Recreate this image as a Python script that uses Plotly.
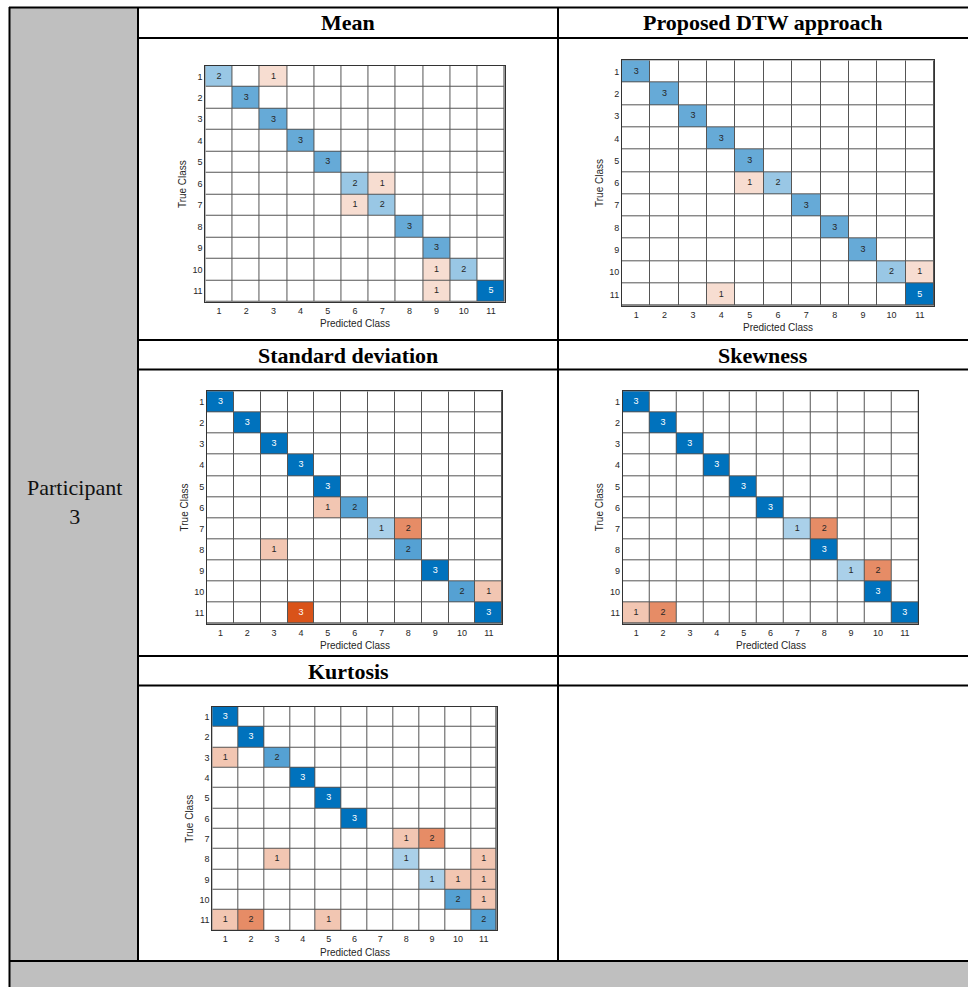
import plotly.graph_objects as go

W, H = 968, 987

class_labels = ["1", "2", "3", "4", "5", "6", "7", "8", "9", "10", "11"]

# Confusion counts: rows = true class, columns = predicted class
mean_counts = [
    [2, 0, 1, 0, 0, 0, 0, 0, 0, 0, 0],
    [0, 3, 0, 0, 0, 0, 0, 0, 0, 0, 0],
    [0, 0, 3, 0, 0, 0, 0, 0, 0, 0, 0],
    [0, 0, 0, 3, 0, 0, 0, 0, 0, 0, 0],
    [0, 0, 0, 0, 3, 0, 0, 0, 0, 0, 0],
    [0, 0, 0, 0, 0, 2, 1, 0, 0, 0, 0],
    [0, 0, 0, 0, 0, 1, 2, 0, 0, 0, 0],
    [0, 0, 0, 0, 0, 0, 0, 3, 0, 0, 0],
    [0, 0, 0, 0, 0, 0, 0, 0, 3, 0, 0],
    [0, 0, 0, 0, 0, 0, 0, 0, 1, 2, 0],
    [0, 0, 0, 0, 0, 0, 0, 0, 1, 0, 5],
]

dtw_counts = [
    [3, 0, 0, 0, 0, 0, 0, 0, 0, 0, 0],
    [0, 3, 0, 0, 0, 0, 0, 0, 0, 0, 0],
    [0, 0, 3, 0, 0, 0, 0, 0, 0, 0, 0],
    [0, 0, 0, 3, 0, 0, 0, 0, 0, 0, 0],
    [0, 0, 0, 0, 3, 0, 0, 0, 0, 0, 0],
    [0, 0, 0, 0, 1, 2, 0, 0, 0, 0, 0],
    [0, 0, 0, 0, 0, 0, 3, 0, 0, 0, 0],
    [0, 0, 0, 0, 0, 0, 0, 3, 0, 0, 0],
    [0, 0, 0, 0, 0, 0, 0, 0, 3, 0, 0],
    [0, 0, 0, 0, 0, 0, 0, 0, 0, 2, 1],
    [0, 0, 0, 1, 0, 0, 0, 0, 0, 0, 5],
]

std_counts = [
    [3, 0, 0, 0, 0, 0, 0, 0, 0, 0, 0],
    [0, 3, 0, 0, 0, 0, 0, 0, 0, 0, 0],
    [0, 0, 3, 0, 0, 0, 0, 0, 0, 0, 0],
    [0, 0, 0, 3, 0, 0, 0, 0, 0, 0, 0],
    [0, 0, 0, 0, 3, 0, 0, 0, 0, 0, 0],
    [0, 0, 0, 0, 1, 2, 0, 0, 0, 0, 0],
    [0, 0, 0, 0, 0, 0, 1, 2, 0, 0, 0],
    [0, 0, 1, 0, 0, 0, 0, 2, 0, 0, 0],
    [0, 0, 0, 0, 0, 0, 0, 0, 3, 0, 0],
    [0, 0, 0, 0, 0, 0, 0, 0, 0, 2, 1],
    [0, 0, 0, 3, 0, 0, 0, 0, 0, 0, 3],
]

skew_counts = [
    [3, 0, 0, 0, 0, 0, 0, 0, 0, 0, 0],
    [0, 3, 0, 0, 0, 0, 0, 0, 0, 0, 0],
    [0, 0, 3, 0, 0, 0, 0, 0, 0, 0, 0],
    [0, 0, 0, 3, 0, 0, 0, 0, 0, 0, 0],
    [0, 0, 0, 0, 3, 0, 0, 0, 0, 0, 0],
    [0, 0, 0, 0, 0, 3, 0, 0, 0, 0, 0],
    [0, 0, 0, 0, 0, 0, 1, 2, 0, 0, 0],
    [0, 0, 0, 0, 0, 0, 0, 3, 0, 0, 0],
    [0, 0, 0, 0, 0, 0, 0, 0, 1, 2, 0],
    [0, 0, 0, 0, 0, 0, 0, 0, 0, 3, 0],
    [1, 2, 0, 0, 0, 0, 0, 0, 0, 0, 3],
]

kurt_counts = [
    [3, 0, 0, 0, 0, 0, 0, 0, 0, 0, 0],
    [0, 3, 0, 0, 0, 0, 0, 0, 0, 0, 0],
    [1, 0, 2, 0, 0, 0, 0, 0, 0, 0, 0],
    [0, 0, 0, 3, 0, 0, 0, 0, 0, 0, 0],
    [0, 0, 0, 0, 3, 0, 0, 0, 0, 0, 0],
    [0, 0, 0, 0, 0, 3, 0, 0, 0, 0, 0],
    [0, 0, 0, 0, 0, 0, 0, 1, 2, 0, 0],
    [0, 0, 1, 0, 0, 0, 0, 1, 0, 0, 1],
    [0, 0, 0, 0, 0, 0, 0, 0, 1, 1, 1],
    [0, 0, 0, 0, 0, 0, 0, 0, 0, 2, 1],
    [1, 2, 0, 0, 1, 0, 0, 0, 0, 0, 2],
]

# Layout of the table cells (pixels): plot box (left, right, top, bottom), title centre (x, y)
panels = [
    ("Mean", mean_counts, (205.4, 504.6, 65.7, 301.7), (348, 22.5)),
    ("Proposed DTW approach", dtw_counts, (622.0, 934.0, 60.3, 305.7), (763, 22.5)),
    ("Standard deviation", std_counts, (207.0, 502.3, 391.3, 623.7), (348, 355)),
    ("Skewness", skew_counts, (622.7, 918.3, 391.3, 623.7), (763, 355)),
    ("Kurtosis", kurt_counts, (212.3, 496.7, 706.7, 930.3), (348, 671)),
]

BLUE = "rgb(0,114,189)"
ORANGE = "rgb(217,83,25)"
DARK_TEXT = "#262626"
SANS = "Liberation Sans, Arial, sans-serif"
SERIF = "Liberation Serif, Times New Roman, serif"


def fx(px):
    return px / W


def fy(py):
    return 1 - py / H


fig = go.Figure()
annotations = []
layout_axes = {}

for i, (title, counts, box, title_pos) in enumerate(panels, start=1):
    n = len(class_labels)
    positions = list(range(1, n + 1))
    vmax = max(max(r) for r in counts)
    # diagonal -> positive (blue), off-diagonal -> negative (orange), empty -> white
    z = []
    for r in range(n):
        row = []
        for c in range(n):
            v = counts[r][c] / vmax
            row.append(v if r == c else -v)
        z.append(row)

    xa = "x" if i == 1 else f"x{i}"
    ya = "y" if i == 1 else f"y{i}"

    fig.add_trace(go.Heatmap(
        z=z, x=positions, y=positions,
        zmin=-1, zmax=1,
        colorscale=[[0, ORANGE], [0.5, "white"], [1, BLUE]],
        showscale=False, xgap=1, ygap=1, hoverinfo="skip",
        xaxis=xa, yaxis=ya,
    ))

    tx, ty, tt, tc = [], [], [], []
    for r in range(n):
        for c in range(n):
            v = counts[r][c]
            if v:
                tx.append(positions[c])
                ty.append(positions[r])
                tt.append(str(v))
                tc.append("white" if v / vmax > 0.7 else DARK_TEXT)
    fig.add_trace(go.Scatter(
        x=tx, y=ty, text=tt, mode="text",
        textfont=dict(family=SANS, size=9, color=tc),
        hoverinfo="skip", showlegend=False,
        xaxis=xa, yaxis=ya,
    ))

    left, right, top, bottom = box
    xkey = "xaxis" if i == 1 else f"xaxis{i}"
    ykey = "yaxis" if i == 1 else f"yaxis{i}"
    layout_axes[xkey] = dict(
        domain=[fx(left), fx(right)], anchor=ya,
        range=[0.5, n + 0.5], tickvals=positions, ticktext=class_labels,
        ticks="", showgrid=False, zeroline=False,
        showline=True, mirror=True, linecolor="#333333", linewidth=1,
        tickfont=dict(family=SANS, size=9, color=DARK_TEXT), fixedrange=True,
    )
    layout_axes[ykey] = dict(
        domain=[fy(bottom), fy(top)], anchor=xa,
        range=[n + 0.5, 0.5], tickvals=positions, ticktext=class_labels,
        ticks="", showgrid=False, zeroline=False,
        showline=True, mirror=True, linecolor="#333333", linewidth=1,
        tickfont=dict(family=SANS, size=9, color=DARK_TEXT), fixedrange=True,
    )

    annotations.append(dict(
        text="Predicted Class", xref=f"{xa} domain", yref=f"{ya} domain",
        x=0.5, y=0, yanchor="middle", xanchor="center", yshift=-22,
        showarrow=False, font=dict(family=SANS, size=10, color=DARK_TEXT),
    ))
    annotations.append(dict(
        text="True Class", xref=f"{xa} domain", yref=f"{ya} domain",
        x=0, y=0.5, xanchor="center", yanchor="middle", xshift=-23,
        textangle=-90, showarrow=False,
        font=dict(family=SANS, size=10, color=DARK_TEXT),
    ))
    annotations.append(dict(
        text=f"<b>{title}</b>", xref="paper", yref="paper",
        x=fx(title_pos[0]), y=fy(title_pos[1]),
        xanchor="center", yanchor="middle", showarrow=False,
        font=dict(family=SERIF, size=22, color="black"),
    ))

annotations.append(dict(
    text="Participant<br>3", xref="paper", yref="paper",
    x=fx(74), y=fy(502), xanchor="center", yanchor="middle",
    showarrow=False, align="center",
    font=dict(family=SERIF, size=22, color="#111111"),
))

# Table frame
GRAY = "#bfbfbf"
shapes = [
    dict(type="rect", xref="paper", yref="paper", x0=fx(10), x1=fx(138),
         y0=fy(961), y1=fy(8), fillcolor=GRAY, line=dict(width=0), layer="below"),
    dict(type="rect", xref="paper", yref="paper", x0=fx(10), x1=fx(968),
         y0=fy(987), y1=fy(961), fillcolor=GRAY, line=dict(width=0), layer="below"),
]


def hline(y, x0, x1, w=2):
    return dict(type="line", xref="paper", yref="paper", x0=fx(x0), x1=fx(x1),
                y0=fy(y), y1=fy(y), line=dict(color="black", width=w))


def vline(x, y0, y1, w=2):
    return dict(type="line", xref="paper", yref="paper", x0=fx(x), x1=fx(x),
                y0=fy(y0), y1=fy(y1), line=dict(color="black", width=w))


shapes += [
    hline(7.5, 9, 968),
    hline(38, 138, 968),
    hline(340, 138, 968),
    hline(369.5, 138, 968),
    hline(656, 138, 968),
    hline(685.5, 138, 968),
    hline(961, 9, 968),
    vline(9.5, 7, 987),
    vline(138, 7, 961),
    vline(558, 7, 961),
]

fig.update_layout(
    width=W, height=H,
    margin=dict(l=0, r=0, t=0, b=0),
    paper_bgcolor="white", plot_bgcolor="#555555",
    showlegend=False,
    annotations=annotations, shapes=shapes,
    **layout_axes,
)

fig.write_html("out.html")
